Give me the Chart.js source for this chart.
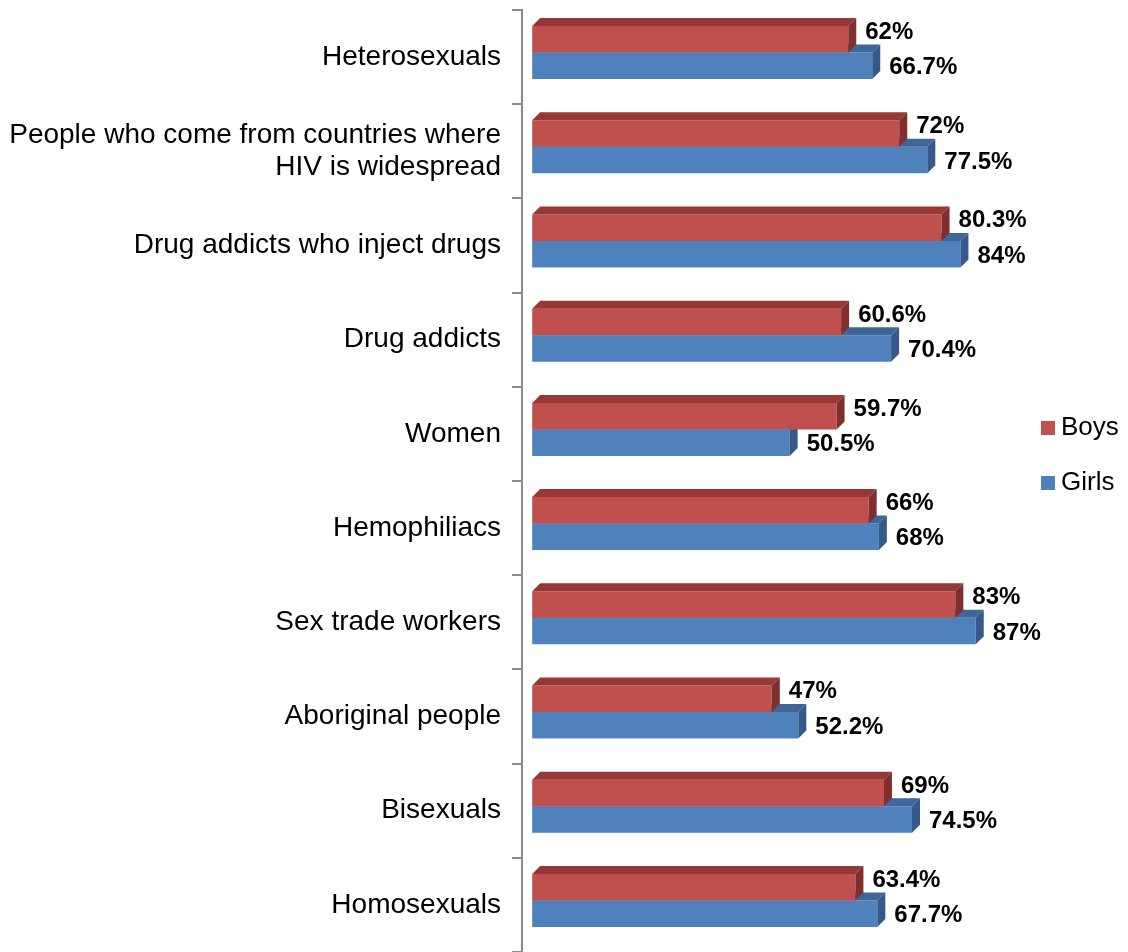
<!DOCTYPE html>
<html>
<head>
<meta charset="utf-8">
<title>HIV groups - Boys vs Girls</title>
<script src="https://cdn.jsdelivr.net/npm/chart.js@4.4.0/dist/chart.umd.min.js"></script>
<style>
  html, body { margin: 0; padding: 0; background: #ffffff; overflow: hidden; }
</style>
</head>
<body>
<canvas id="myChart" width="1128" height="952"></canvas>
<script>
// Categories (top to bottom) and the two series, in percent
var categories = [
    'Heterosexuals',
    ['People who come from countries where', 'HIV is widespread'],
    'Drug addicts who inject drugs',
    'Drug addicts',
    'Women',
    'Hemophiliacs',
    'Sex trade workers',
    'Aboriginal people',
    'Bisexuals',
    'Homosexuals'
];
var boys = [62, 72, 80.3, 60.6, 59.7, 66, 83, 47, 69, 63.4];
var girls = [66.7, 77.5, 84, 70.4, 50.5, 68, 87, 52.2, 74.5, 67.7];
var seriesNames = ['Boys', 'Girls'];

var FONT = "'Liberation Sans', Arial, Helvetica, sans-serif";
var DEPTH = 8;       // depth of the fake 3D extrusion
var LIFT = -4.5;     // bars sit a little above the category centre
var AXIS_GREY = '#8a8a8a';

// front, top and side shades for each series
var shades = [
    { front: '#C0504D', top: '#953836', side: '#7f2f2d' },
    { front: '#4F81BD', top: '#3e6797', side: '#36598a' }
];

Chart.defaults.font.family = FONT;

// Draws the top/side faces, the value labels and the legend
var bar3d = {
    id: 'bar3d',
    beforeDatasetsDraw: function(chart) {
        chart.ctx.save();
        chart.ctx.translate(0, LIFT);
    },
    afterDatasetDraw: function(chart, args) {
        var ctx = chart.ctx;
        var shade = shades[args.index];
        args.meta.data.forEach(function(bar) {
            var p = bar.getProps(['x', 'y', 'base', 'height'], true);
            var top = p.y - p.height / 2;
            var bottom = p.y + p.height / 2;
            // top face
            ctx.fillStyle = shade.top;
            ctx.beginPath();
            ctx.moveTo(p.base, top);
            ctx.lineTo(p.base + DEPTH, top - DEPTH);
            ctx.lineTo(p.x + DEPTH, top - DEPTH);
            ctx.lineTo(p.x, top);
            ctx.closePath();
            ctx.fill();
            // side face
            ctx.fillStyle = shade.side;
            ctx.beginPath();
            ctx.moveTo(p.x, top);
            ctx.lineTo(p.x + DEPTH, top - DEPTH);
            ctx.lineTo(p.x + DEPTH, bottom - DEPTH);
            ctx.lineTo(p.x, bottom);
            ctx.closePath();
            ctx.fill();
        });
    },
    afterDatasetsDraw: function(chart) {
        var ctx = chart.ctx;
        ctx.font = 'bold 24px ' + FONT;
        ctx.fillStyle = '#000000';
        ctx.textAlign = 'left';
        ctx.textBaseline = 'middle';
        chart.data.datasets.forEach(function(ds, i) {
            var meta = chart.getDatasetMeta(i);
            meta.data.forEach(function(bar, j) {
                var dy = i === 0 ? -7 : 2;
                ctx.fillText(ds.data[j] + '%', bar.x + 17, bar.y + dy);
            });
        });
        ctx.restore();

        // legend on the right
        ctx.save();
        ctx.font = '26px ' + FONT;
        ctx.textBaseline = 'middle';
        var lx = chart.chartArea.right - 1;
        chart.data.datasets.forEach(function(ds, i) {
            var cy = 428 + i * 55;
            ctx.fillStyle = ds.backgroundColor;
            ctx.fillRect(lx, cy - 7, 14, 14);
            ctx.fillStyle = '#000000';
            ctx.fillText(ds.label, lx + 20, cy);
        });
        ctx.restore();
    }
};

var ctx = document.getElementById('myChart').getContext('2d');
var myChart = new Chart(ctx, {
    type: 'bar',
    data: {
        labels: categories,
        datasets: [
            {
                label: seriesNames[0],
                data: boys,
                backgroundColor: shades[0].front,
                borderWidth: 0
            },
            {
                label: seriesNames[1],
                data: girls,
                backgroundColor: shades[1].front,
                borderWidth: 0
            }
        ]
    },
    options: {
        indexAxis: 'y',
        responsive: false,
        animation: false,
        devicePixelRatio: 1,
        categoryPercentage: 0.5626,
        barPercentage: 1,
        layout: {
            padding: { left: 0, right: 86, top: 10, bottom: 0 }
        },
        scales: {
            x: {
                display: false,
                min: -2,
                max: 100
            },
            y: {
                offset: true,
                afterFit: function(scale) {
                    scale.width = 522;
                    scale.paddingTop = 0;
                    scale.paddingBottom = 0;
                },
                border: { display: true, color: AXIS_GREY, width: 2 },
                grid: {
                    display: true,
                    drawOnChartArea: false,
                    drawTicks: true,
                    tickLength: 10,
                    color: AXIS_GREY,
                    lineWidth: 2
                },
                ticks: {
                    color: '#000000',
                    padding: 11,
                    font: { size: 28, lineHeight: 1.13 }
                }
            }
        },
        plugins: {
            legend: { display: false },
            tooltip: { enabled: false }
        }
    },
    plugins: [bar3d]
});
</script>
</body>
</html>
